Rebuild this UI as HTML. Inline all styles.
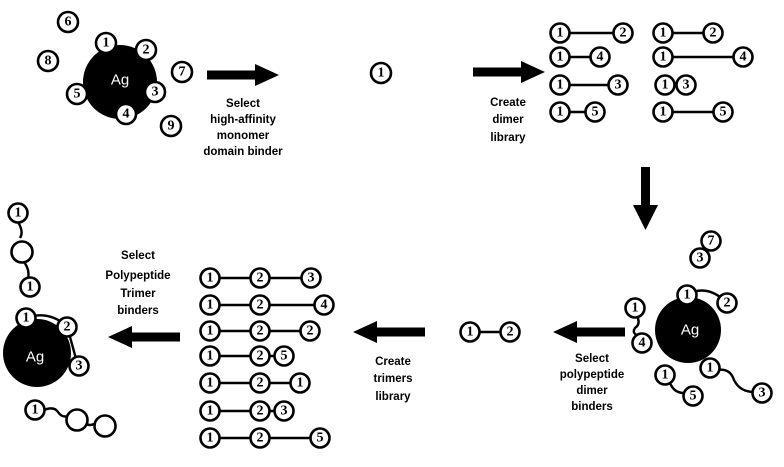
<!DOCTYPE html>
<html><head><meta charset="utf-8"><style>
html,body{margin:0;padding:0;background:#fff;}
svg{display:block;}
.c{fill:#fff;stroke:#000;stroke-width:2.6;}
.d{font-family:"Liberation Serif",serif;font-weight:bold;font-size:14px;text-anchor:middle;dominant-baseline:central;fill:#000;}
.t{font-family:"Liberation Sans",sans-serif;font-weight:bold;font-size:11.5px;text-anchor:middle;fill:#000;}
.l{stroke:#000;stroke-width:2.4;fill:none;}
.ag{font-family:"Liberation Sans",sans-serif;font-size:15px;fill:#fff;text-anchor:middle;dominant-baseline:central;}
</style></head><body>
<svg width="784" height="467" viewBox="0 0 784 467" xmlns="http://www.w3.org/2000/svg">
<defs>
<g id="ar"><rect x="0" y="-4.5" width="52" height="9" fill="#000"/><polygon points="48,-11 72,0 48,11" fill="#000"/></g>
</defs>

<!-- top left Ag -->
<circle cx="120" cy="82" r="37" fill="#000"/>
<text class="ag" x="120" y="80">Ag</text>
<g>
<circle class="c" cx="106" cy="43" r="10"/><text class="d" x="106" y="43">1</text>
<circle class="c" cx="146" cy="50" r="10"/><text class="d" x="146" y="50">2</text>
<circle class="c" cx="182" cy="72" r="10"/><text class="d" x="182" y="72">7</text>
<circle class="c" cx="155" cy="92" r="10"/><text class="d" x="155" y="92">3</text>
<circle class="c" cx="126" cy="114" r="10"/><text class="d" x="126" y="114">4</text>
<circle class="c" cx="77" cy="94" r="10"/><text class="d" x="77" y="94">5</text>
<circle class="c" cx="171" cy="126" r="10"/><text class="d" x="171" y="126">9</text>
<circle class="c" cx="48" cy="61" r="10"/><text class="d" x="48" y="61">8</text>
<circle class="c" cx="68" cy="22" r="10"/><text class="d" x="68" y="22">6</text>
</g>
<use href="#ar" x="207" y="75"/>
<text class="t" x="243" y="107">Select</text>
<text class="t" x="243" y="123">high-affinity</text>
<text class="t" x="243" y="139">monomer</text>
<text class="t" x="243" y="155">domain binder</text>

<circle class="c" cx="381" cy="73" r="10"/><text class="d" x="381" y="73">1</text>

<use href="#ar" x="473" y="72"/>
<text class="t" x="508" y="106">Create</text>
<text class="t" x="508" y="123">dimer</text>
<text class="t" x="508" y="141">library</text>

<!-- dimer library -->
<g>
<line class="l" x1="560" y1="33" x2="623" y2="33"/>
<circle class="c" cx="560" cy="33" r="9.5"/><text class="d" x="560" y="33">1</text>
<circle class="c" cx="623" cy="33" r="9.5"/><text class="d" x="623" y="33">2</text>
<line class="l" x1="560" y1="57" x2="600" y2="57"/>
<circle class="c" cx="560" cy="57" r="9.5"/><text class="d" x="560" y="57">1</text>
<circle class="c" cx="600" cy="57" r="9.5"/><text class="d" x="600" y="57">4</text>
<line class="l" x1="560" y1="85" x2="618" y2="85"/>
<circle class="c" cx="560" cy="85" r="9.5"/><text class="d" x="560" y="85">1</text>
<circle class="c" cx="618" cy="85" r="9.5"/><text class="d" x="618" y="85">3</text>
<line class="l" x1="560" y1="112" x2="595" y2="112"/>
<circle class="c" cx="560" cy="112" r="9.5"/><text class="d" x="560" y="112">1</text>
<circle class="c" cx="595" cy="112" r="9.5"/><text class="d" x="595" y="112">5</text>

<line class="l" x1="663" y1="33" x2="713" y2="33"/>
<circle class="c" cx="663" cy="33" r="9.5"/><text class="d" x="663" y="33">1</text>
<circle class="c" cx="713" cy="33" r="9.5"/><text class="d" x="713" y="33">2</text>
<line class="l" x1="663" y1="57" x2="743" y2="57"/>
<circle class="c" cx="663" cy="57" r="9.5"/><text class="d" x="663" y="57">1</text>
<circle class="c" cx="743" cy="57" r="9.5"/><text class="d" x="743" y="57">4</text>
<circle class="c" cx="665" cy="85" r="9.5"/><text class="d" x="665" y="85">1</text>
<circle class="c" cx="686" cy="85" r="9.5"/><text class="d" x="686" y="85">3</text>
<line class="l" x1="663" y1="112" x2="723" y2="112"/>
<circle class="c" cx="663" cy="112" r="9.5"/><text class="d" x="663" y="112">1</text>
<circle class="c" cx="723" cy="112" r="9.5"/><text class="d" x="723" y="112">5</text>
</g>

<!-- down arrow -->
<rect x="641" y="167" width="9" height="42" fill="#000"/>
<polygon points="633,205 658,205 645.5,230" fill="#000"/>

<!-- bottom right Ag -->
<circle cx="688" cy="330" r="33" fill="#000"/>
<text class="ag" x="690" y="330">Ag</text>
<path class="l" d="M687 295 Q707 283 727 303"/>
<circle class="c" cx="711" cy="241" r="9.5"/><text class="d" x="711" y="241">7</text>
<circle class="c" cx="700" cy="258" r="9.5"/><text class="d" x="700" y="258">3</text>
<circle class="c" cx="687" cy="295" r="9.5"/><text class="d" x="687" y="295">1</text>
<circle class="c" cx="727" cy="303" r="9.5"/><text class="d" x="727" y="303">2</text>
<path class="l" d="M637 316 q4 8 -2 12 q-4 6 5 8"/>
<circle class="c" cx="635" cy="308" r="9.5"/><text class="d" x="635" y="308">1</text>
<circle class="c" cx="642" cy="343" r="9.5"/><text class="d" x="642" y="343">4</text>
<path class="l" d="M718 370 q12 -2 16 10 q6 12 20 12"/>
<circle class="c" cx="710" cy="368" r="9.5"/><text class="d" x="710" y="368">1</text>
<circle class="c" cx="762" cy="393" r="9.5"/><text class="d" x="762" y="393">3</text>
<path class="l" d="M670 383 q4 10 14 10"/>
<circle class="c" cx="665" cy="375" r="9.5"/><text class="d" x="665" y="375">1</text>
<circle class="c" cx="693" cy="396" r="9.5"/><text class="d" x="693" y="396">5</text>

<use href="#ar" transform="translate(625,332) scale(-1,1)"/>
<text class="t" x="592" y="362">Select</text>
<text class="t" x="592" y="378">polypeptide</text>
<text class="t" x="592" y="394">dimer</text>
<text class="t" x="592" y="410">binders</text>

<!-- dimer 1-2 -->
<line class="l" x1="470" y1="332" x2="510" y2="332"/>
<circle class="c" cx="470" cy="332" r="9.5"/><text class="d" x="470" y="332">1</text>
<circle class="c" cx="510" cy="332" r="9.5"/><text class="d" x="510" y="332">2</text>

<use href="#ar" transform="translate(425,332) scale(-1,1)"/>
<text class="t" x="393" y="365">Create</text>
<text class="t" x="393" y="382">trimers</text>
<text class="t" x="393" y="400">library</text>

<!-- trimer library -->
<g>
<line class="l" x1="210" y1="278" x2="311" y2="278"/>
<circle class="c" cx="210" cy="278" r="9.5"/><text class="d" x="210" y="278">1</text>
<circle class="c" cx="260" cy="278" r="9.5"/><text class="d" x="260" y="278">2</text>
<circle class="c" cx="311" cy="278" r="9.5"/><text class="d" x="311" y="278">3</text>
<line class="l" x1="210" y1="305" x2="324" y2="305"/>
<circle class="c" cx="210" cy="305" r="9.5"/><text class="d" x="210" y="305">1</text>
<circle class="c" cx="260" cy="305" r="9.5"/><text class="d" x="260" y="305">2</text>
<circle class="c" cx="324" cy="305" r="9.5"/><text class="d" x="324" y="305">4</text>
<line class="l" x1="210" y1="331" x2="310" y2="331"/>
<circle class="c" cx="210" cy="331" r="9.5"/><text class="d" x="210" y="331">1</text>
<circle class="c" cx="260" cy="331" r="9.5"/><text class="d" x="260" y="331">2</text>
<circle class="c" cx="310" cy="331" r="9.5"/><text class="d" x="310" y="331">2</text>
<line class="l" x1="210" y1="356" x2="285" y2="356"/>
<circle class="c" cx="210" cy="356" r="9.5"/><text class="d" x="210" y="356">1</text>
<circle class="c" cx="260" cy="356" r="9.5"/><text class="d" x="260" y="356">2</text>
<circle class="c" cx="284" cy="356" r="9.5"/><text class="d" x="284" y="356">5</text>
<line class="l" x1="210" y1="383" x2="300" y2="383"/>
<circle class="c" cx="210" cy="383" r="9.5"/><text class="d" x="210" y="383">1</text>
<circle class="c" cx="260" cy="383" r="9.5"/><text class="d" x="260" y="383">2</text>
<circle class="c" cx="300" cy="383" r="9.5"/><text class="d" x="300" y="383">1</text>
<line class="l" x1="210" y1="411" x2="284" y2="411"/>
<circle class="c" cx="210" cy="411" r="9.5"/><text class="d" x="210" y="411">1</text>
<circle class="c" cx="260" cy="411" r="9.5"/><text class="d" x="260" y="411">2</text>
<circle class="c" cx="284" cy="411" r="9.5"/><text class="d" x="284" y="411">3</text>
<line class="l" x1="210" y1="438" x2="320" y2="438"/>
<circle class="c" cx="210" cy="438" r="9.5"/><text class="d" x="210" y="438">1</text>
<circle class="c" cx="260" cy="438" r="9.5"/><text class="d" x="260" y="438">2</text>
<circle class="c" cx="320" cy="438" r="9.5"/><text class="d" x="320" y="438">5</text>
</g>

<use href="#ar" transform="translate(180,337) scale(-1,1)"/>
<text class="t" x="138" y="259">Select</text>
<text class="t" x="138" y="279">Polypeptide</text>
<text class="t" x="138" y="297">Trimer</text>
<text class="t" x="138" y="314">binders</text>

<!-- bottom left Ag -->
<circle cx="37" cy="353" r="34" fill="#000"/>
<text class="ag" x="35" y="357">Ag</text>
<path class="l" d="M26 318 Q48 310 67 326 L78 366"/>
<circle class="c" cx="26" cy="318" r="9.5"/><text class="d" x="26" y="318">1</text>
<circle class="c" cx="67" cy="327" r="9.5"/><text class="d" x="67" y="327">2</text>
<circle class="c" cx="79" cy="366" r="9.5"/><text class="d" x="79" y="366">3</text>
<path class="l" d="M18 222 q6 10 2 16 M24 262 q6 8 4 16"/>
<circle class="c" cx="18" cy="213" r="9.5"/><text class="d" x="18" y="213">1</text>
<circle class="c" cx="22" cy="252" r="10.5"/>
<circle class="c" cx="30" cy="287" r="9.5"/><text class="d" x="30" y="287">1</text>
<path class="l" d="M44 410 q10 -4 14 2 q4 6 10 4 M86 424 q4 2 8 0"/>
<circle class="c" cx="35" cy="410" r="9.5"/><text class="d" x="35" y="410">1</text>
<circle class="c" cx="77" cy="420" r="10.5"/>
<circle class="c" cx="105" cy="426" r="10.5"/>
</svg>
</body></html>
